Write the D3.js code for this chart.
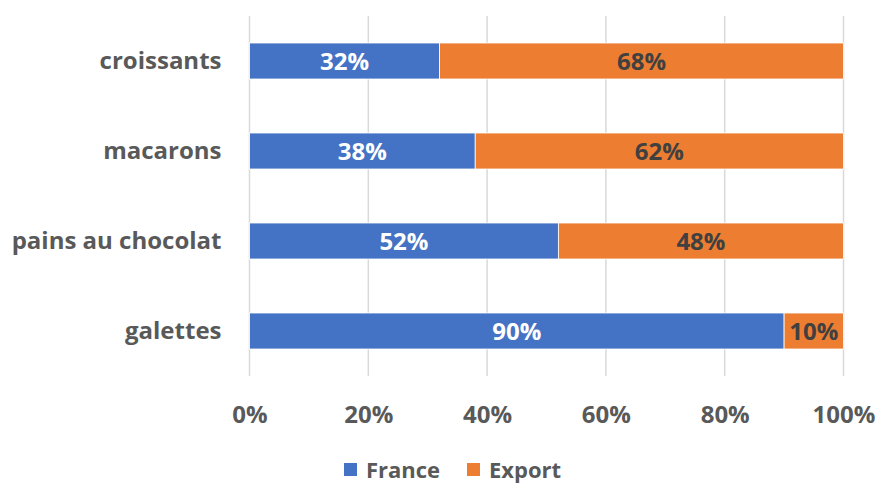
<!DOCTYPE html>
<html lang="en">
<head>
<meta charset="UTF-8">
<title>France / Export</title>
<script src="https://d3js.org/d3.v7.min.js"></script>
<style>
  body { margin: 0; background: #fff; }
  text { font-family: "Open Sans", "Noto Sans", sans-serif; font-weight: bold; }
</style>
</head>
<body>
<svg width="877" height="484"></svg>
<script>
    var categories = ['croissants', 'macarons', 'pains au chocolat', 'galettes'];
    var france = [32, 38, 52, 90];
    var exportVals = [68, 62, 48, 10];
    var tickValues = [0, 20, 40, 60, 80, 100];
    var seriesNames = ['France', 'Export'];
    var colors = ['#4472c4', '#ed7d31'];

    var svg = d3.select('svg');

    // echelles
    var x = d3.scaleLinear().domain([0, 100]).range([249.5, 843.5]);
    var y = d3.scaleBand().domain(categories).range([16, 376]).paddingInner(0.6).paddingOuter(0.3);

    // grille verticale
    svg.append('g').selectAll('line')
        .data(tickValues)
        .enter()
        .append('line')
        .attr('x1', d => x(d)).attr('x2', d => x(d))
        .attr('y1', 16).attr('y2', 376)
        .attr('stroke', '#d9d9d9')
        .attr('stroke-width', 1.5);

    // donnees empilees
    var rows = categories.map((c, i) => ({ cat: c, France: france[i], Export: exportVals[i] }));
    var stack = d3.stack().keys(seriesNames)(rows);

    var layers = svg.append('g').selectAll('g')
        .data(stack)
        .enter()
        .append('g')
        .attr('fill', (d, i) => colors[i]);

    layers.selectAll('rect')
        .data(d => d)
        .enter()
        .append('rect')
        .attr('x', d => x(d[0]))
        .attr('y', d => y(d.data.cat))
        .attr('width', d => x(d[1]) - x(d[0]))
        .attr('height', y.bandwidth())
        .attr('stroke', '#fff')
        .attr('stroke-width', 0.8);

    // etiquettes de donnees
    stack.forEach(function (layer, i) {
        svg.append('g').selectAll('text')
            .data(layer)
            .enter()
            .append('text')
            .attr('x', d => (x(d[0]) + x(d[1])) / 2)
            .attr('y', d => y(d.data.cat) + y.bandwidth() / 2)
            .attr('dy', '0.36em')
            .attr('text-anchor', 'middle')
            .attr('font-size', 24)
            .attr('fill', i === 0 ? '#ffffff' : '#404040')
            .text(d => (d[1] - d[0]) + '%');
    });

    // axe des categories
    var yAxis = svg.append('g')
        .attr('transform', 'translate(249.5,0)')
        .call(d3.axisLeft(y).tickSize(0).tickPadding(28));
    yAxis.select('.domain').remove();
    yAxis.selectAll('text')
        .attr('font-size', 24)
        .attr('fill', '#595959')
        .style('font-family', '"Open Sans", sans-serif')
        .style('font-weight', 'bold');

    // axe des pourcentages
    var xAxis = svg.append('g')
        .attr('transform', 'translate(0,376)')
        .call(d3.axisBottom(x).tickValues(tickValues).tickSize(0).tickPadding(30).tickFormat(d => d + '%'));
    xAxis.select('.domain').remove();
    xAxis.selectAll('text')
        .attr('font-size', 24)
        .attr('fill', '#595959')
        .style('font-family', '"Open Sans", sans-serif')
        .style('font-weight', 'bold');

    // legende
    var legendX = [344, 467];
    var legend = svg.append('g').selectAll('g')
        .data(seriesNames)
        .enter()
        .append('g')
        .attr('transform', (d, i) => 'translate(' + legendX[i] + ',463)');
    legend.append('rect')
        .attr('width', 13).attr('height', 13)
        .attr('fill', (d, i) => colors[i]);
    legend.append('text')
        .attr('x', 22).attr('y', 7).attr('dy', '0.35em')
        .attr('font-size', 22)
        .attr('fill', '#595959')
        .text(d => d);
</script>
</body>
</html>
